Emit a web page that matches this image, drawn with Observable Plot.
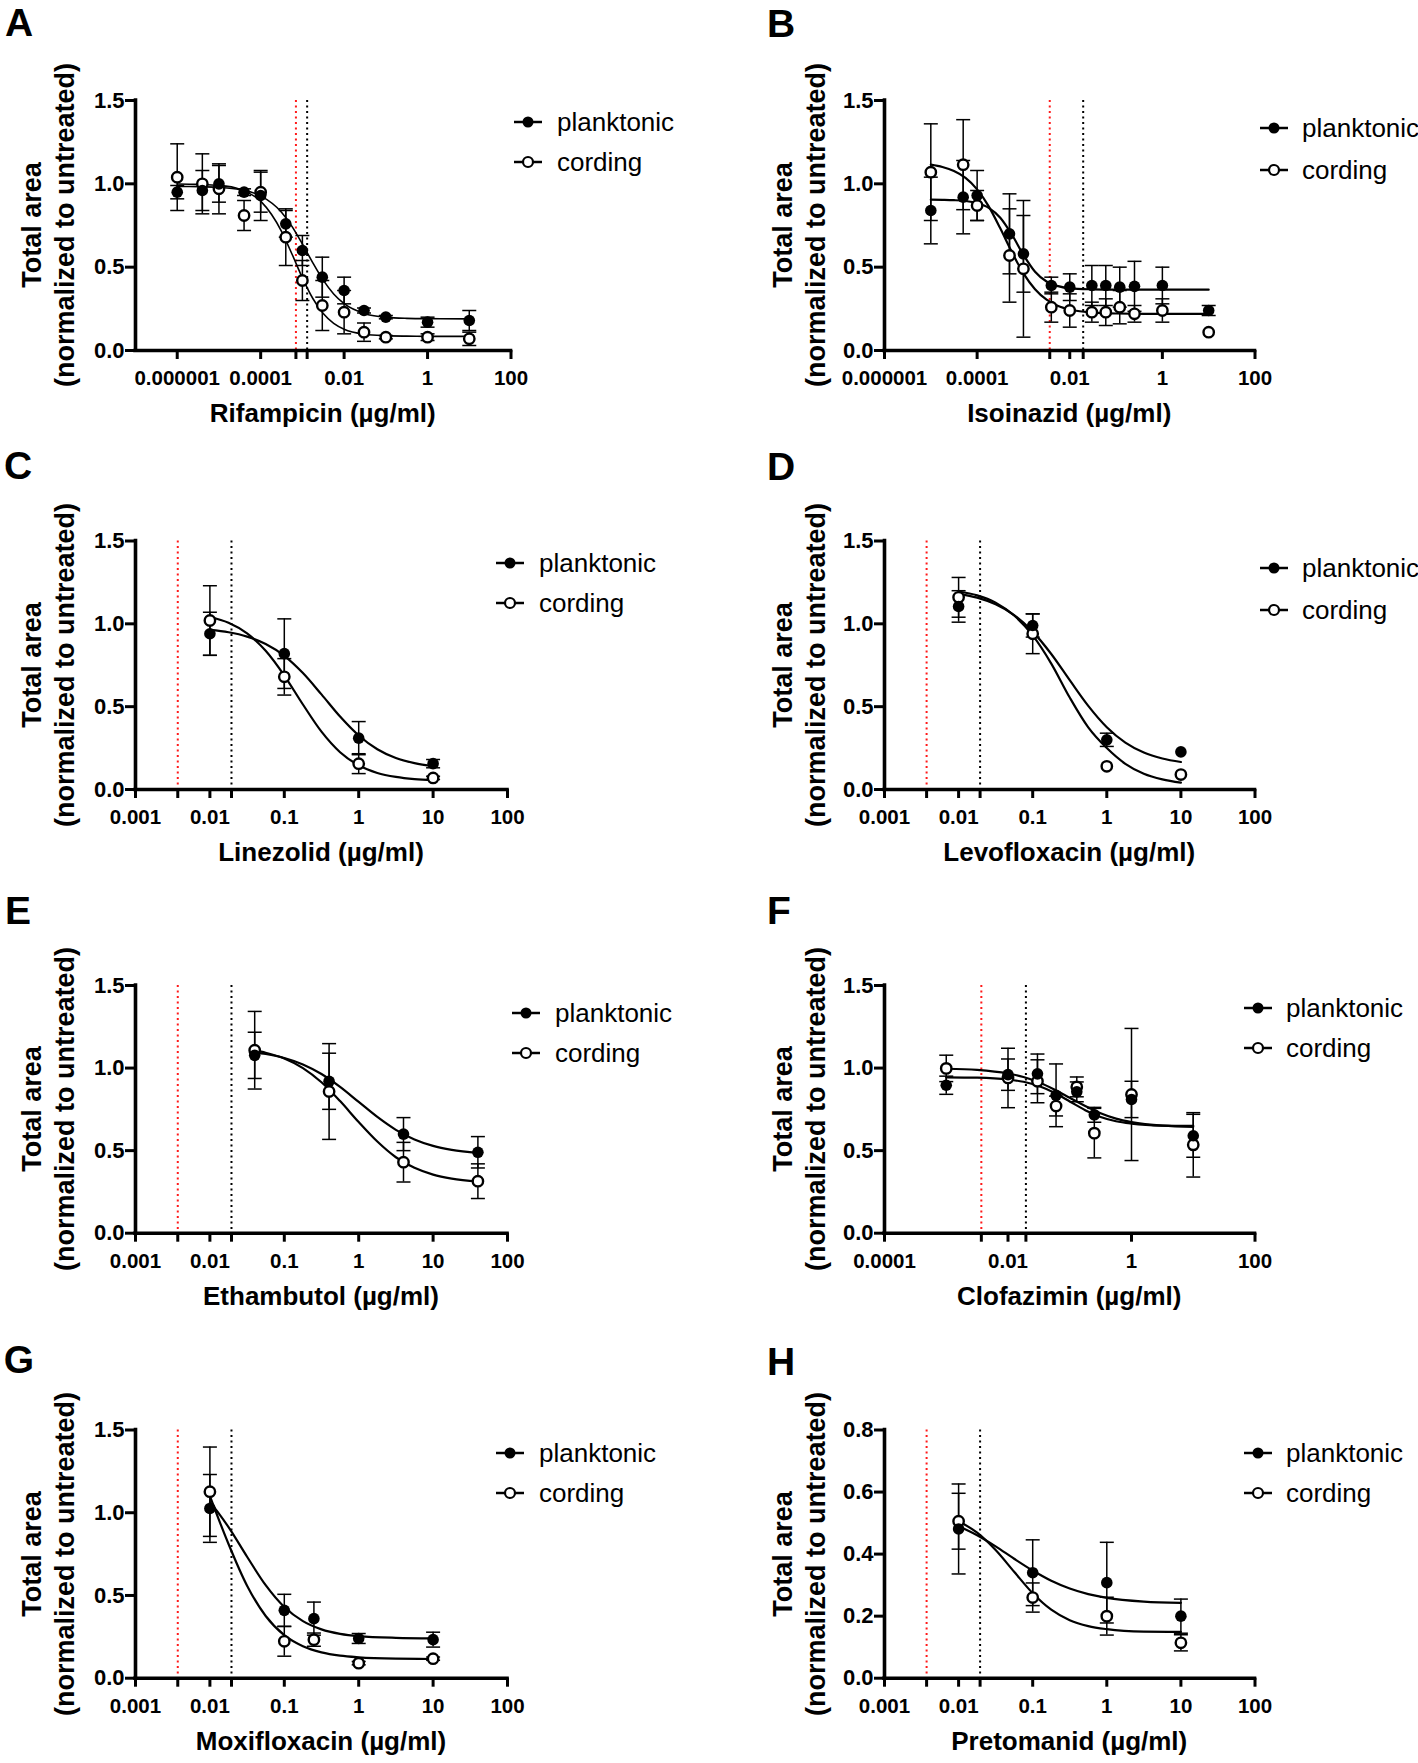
<!DOCTYPE html>
<html><head><meta charset="utf-8">
<script src="https://cdn.jsdelivr.net/npm/d3@7"></script>
<script src="https://cdn.jsdelivr.net/npm/@observablehq/plot@0.6"></script>
<style>
body{margin:0;background:#fff;}
#fig{position:relative;width:1418px;height:1763px;overflow:hidden;font-family:"Liberation Sans",Arial,sans-serif;color:#000;}
.panel{position:absolute;width:709px;}
.panel svg{position:absolute;left:0;top:0;overflow:visible;}
.abs{position:absolute;white-space:nowrap;line-height:1;}
</style></head><body><div id="fig"></div><script>
// ---------------- DATA ----------------
const seriesNames = ["planktonic", "cording"];
const yTicks15 = [0, 0.5, 1.0, 1.5];
const yTicks08 = [0, 0.2, 0.4, 0.6, 0.8];
const xTicksWide = [1e-6, 1e-4, 0.01, 1, 100];
const xLabelsWide = ["0.000001", "0.0001", "0.01", "1", "100"];
const xTicksDec = [0.001, 0.01, 0.1, 1, 10, 100];
const xLabelsDec = ["0.001", "0.01", "0.1", "1", "10", "100"];
const xTicksF = [1e-4, 0.01, 1, 100];
const xLabelsF = ["0.0001", "0.01", "1", "100"];

// A Rifampicin
const concA = [1e-6, 4e-6, 1e-5, 4e-5, 1e-4, 4e-4, 1e-3, 3e-3, 0.01, 0.03, 0.1, 1, 10];
const plankA = [0.95, 0.96, 1.00, 0.95, 0.93, 0.76, 0.60, 0.44, 0.36, 0.24, 0.20, 0.17, 0.18];
const plankErrA = [0.04, 0.12, 0.11, 0.02, 0.15, 0.08, 0.09, 0.12, 0.08, 0.015, 0.01, 0.03, 0.06];
const cordA = [1.04, 1.00, 0.97, 0.81, 0.95, 0.68, 0.42, 0.27, 0.23, 0.11, 0.08, 0.08, 0.07];
const cordErrA = [0.20, 0.18, 0.15, 0.09, 0.12, 0.17, 0.12, 0.15, 0.13, 0.055, 0.01, 0.02, 0.04];
const fitXA = [1e-6, 3.16e-6, 1e-5, 3.16e-5, 1e-4, 3.16e-4, 5.62e-4, 1e-3, 1.78e-3, 3.16e-3, 5.62e-3, 0.01, 0.0316, 0.1, 0.316, 1, 10];
const fitPlankA = [0.984, 0.983, 0.979, 0.966, 0.928, 0.830, 0.745, 0.639, 0.526, 0.422, 0.339, 0.281, 0.221, 0.200, 0.193, 0.191, 0.190];
const fitCordA = [0.999, 0.997, 0.991, 0.968, 0.896, 0.715, 0.579, 0.436, 0.312, 0.222, 0.163, 0.128, 0.098, 0.089, 0.086, 0.085, 0.085];
const micA = [0.0007, 0.0013];

// B Isoinazid
const concB = [1e-5, 5e-5, 1e-4, 5e-4, 1e-3, 0.004, 0.01, 0.03, 0.06, 0.12, 0.25, 1, 10];
const plankB = [0.84, 0.92, 0.93, 0.70, 0.58, 0.39, 0.38, 0.39, 0.39, 0.38, 0.385, 0.39, 0.24];
const plankErrB = [0.20, 0.22, 0.15, 0.24, 0.23, 0.05, 0.08, 0.12, 0.12, 0.12, 0.15, 0.11, 0.03];
const cordB = [1.07, 1.115, 0.87, 0.57, 0.49, 0.26, 0.24, 0.23, 0.23, 0.26, 0.22, 0.24, 0.11];
const cordErrB = [0.29, 0.27, 0.09, 0.28, 0.41, 0.09, 0.10, 0.06, 0.08, 0.10, 0.05, 0.07, 0];
const fitXB = [1e-5, 1.78e-5, 3.16e-5, 5.62e-5, 1e-4, 1.78e-4, 3.16e-4, 5.62e-4, 1e-3, 1.78e-3, 3.16e-3, 5.62e-3, 0.01, 0.0316, 0.1, 1, 10];
const fitPlankB = [0.905, 0.904, 0.902, 0.897, 0.884, 0.856, 0.797, 0.696, 0.574, 0.473, 0.414, 0.386, 0.373, 0.367, 0.365, 0.365, 0.365];
const fitCordB = [1.115, 1.101, 1.077, 1.036, 0.967, 0.865, 0.733, 0.591, 0.463, 0.368, 0.305, 0.267, 0.246, 0.227, 0.222, 0.220, 0.220];
const micB = [0.0037, 0.0195];

// C Linezolid
const concC = [0.01, 0.1, 1, 10];
const plankC = [0.94, 0.82, 0.31, 0.156];
const plankErrC = [0.13, 0.21, 0.10, 0.025];
const cordC = [1.02, 0.68, 0.156, 0.07];
const cordErrC = [0.21, 0.11, 0.06, 0.01];
const fitXC = [0.01, 0.0178, 0.0316, 0.0562, 0.1, 0.178, 0.316, 0.562, 1, 1.78, 3.16, 5.62, 10];
const fitPlankC = [0.963, 0.949, 0.923, 0.878, 0.807, 0.703, 0.574, 0.440, 0.326, 0.243, 0.190, 0.159, 0.141];
const fitCordC = [1.041, 1.006, 0.942, 0.837, 0.688, 0.513, 0.349, 0.225, 0.146, 0.100, 0.076, 0.063, 0.057];
const micC = [0.0037, 0.0195];

// D Levofloxacin
const concD = [0.01, 0.1, 1, 10];
const plankD = [1.105, 0.99, 0.30, 0.227];
const plankErrD = [0.095, 0.07, 0.04, 0];
const cordD = [1.16, 0.94, 0.14, 0.09];
const cordErrD = [0.12, 0.12, 0, 0];
const fitXD = [0.01, 0.0178, 0.0316, 0.0562, 0.1, 0.178, 0.316, 0.562, 1, 1.78, 3.16, 5.62, 10];
const fitPlankD = [1.181, 1.158, 1.118, 1.053, 0.953, 0.818, 0.660, 0.505, 0.376, 0.283, 0.223, 0.187, 0.166];
const fitCordD = [1.195, 1.172, 1.128, 1.050, 0.930, 0.760, 0.555, 0.375, 0.250, 0.155, 0.095, 0.061, 0.041];
const micD = [0.0037, 0.0195];

// E Ethambutol
const concE = [0.04, 0.4, 4, 40];
const plankE = [1.077, 0.92, 0.60, 0.49];
const plankErrE = [0.14, 0.17, 0.10, 0.095];
const cordE = [1.108, 0.858, 0.43, 0.315];
const cordErrE = [0.235, 0.29, 0.12, 0.105];
const fitXE = [0.04, 0.0562, 0.1, 0.178, 0.316, 0.562, 1, 1.78, 3.16, 5.62, 10, 17.8, 40];
const fitPlankE = [1.095, 1.085, 1.061, 1.022, 0.964, 0.886, 0.795, 0.704, 0.626, 0.568, 0.529, 0.505, 0.486];
const fitCordE = [1.107, 1.093, 1.058, 1.000, 0.914, 0.800, 0.673, 0.555, 0.460, 0.396, 0.355, 0.331, 0.313];
const micE = [0.0037, 0.0195];

// F Clofazimin
const concF = [0.001, 0.01, 0.03, 0.06, 0.13, 0.25, 1, 10];
const plankF = [0.896, 0.96, 0.965, 0.835, 0.856, 0.717, 0.81, 0.59];
const plankErrF = [0.055, 0.095, 0.12, 0.19, 0.06, 0.045, 0.11, 0.13];
const cordF = [0.998, 0.94, 0.92, 0.77, 0.886, 0.606, 0.84, 0.535];
const cordErrF = [0.08, 0.18, 0.13, 0.06, 0.06, 0.15, 0.40, 0.195];
const fitXF = [0.001, 0.00316, 0.01, 0.0178, 0.0316, 0.0562, 0.1, 0.178, 0.316, 0.562, 1, 3.16, 10];
const fitPlankF = [0.944, 0.942, 0.931, 0.917, 0.891, 0.850, 0.798, 0.745, 0.704, 0.678, 0.664, 0.652, 0.650];
const fitCordF = [0.996, 0.989, 0.967, 0.946, 0.914, 0.870, 0.820, 0.770, 0.727, 0.694, 0.673, 0.651, 0.644];
const micF = [0.0037, 0.0195];

// G Moxifloxacin
const concG = [0.01, 0.1, 0.25, 1, 10];
const plankG = [1.026, 0.41, 0.36, 0.24, 0.233];
const plankErrG = [0.205, 0.097, 0.10, 0.03, 0.045];
const cordG = [1.127, 0.223, 0.233, 0.091, 0.118];
const cordErrG = [0.27, 0.09, 0.04, 0.01, 0.01];
const fitXG = [0.01, 0.0133, 0.0178, 0.0316, 0.0562, 0.1, 0.178, 0.316, 0.562, 1, 3.16, 10];
const fitPlankG = [1.063, 0.993, 0.913, 0.734, 0.562, 0.430, 0.345, 0.295, 0.268, 0.254, 0.244, 0.241];
const fitCordG = [1.100, 0.954, 0.811, 0.559, 0.376, 0.260, 0.193, 0.156, 0.136, 0.126, 0.118, 0.116];
const micG = [0.0037, 0.0195];

// H Pretomanid
const concH = [0.01, 0.1, 1, 10];
const plankH = [0.481, 0.34, 0.308, 0.20];
const plankErrH = [0.145, 0.106, 0.13, 0.055];
const cordH = [0.506, 0.26, 0.20, 0.114];
const cordErrH = [0.09, 0.047, 0.061, 0.026];
const fitXH = [0.01, 0.0178, 0.0316, 0.0562, 0.1, 0.178, 0.316, 0.562, 1, 3.16, 10];
const fitPlankH = [0.490, 0.461, 0.425, 0.385, 0.347, 0.314, 0.289, 0.271, 0.259, 0.247, 0.243];
const fitCordH = [0.506, 0.469, 0.413, 0.343, 0.274, 0.221, 0.187, 0.168, 0.158, 0.150, 0.149];
const micH = [0.0037, 0.0195];

const drugLabels = ["Rifampicin (µg/ml)", "Isoinazid (µg/ml)", "Linezolid (µg/ml)", "Levofloxacin (µg/ml)",
  "Ethambutol (µg/ml)", "Clofazimin (µg/ml)", "Moxifloxacin (µg/ml)", "Pretomanid (µg/ml)"];
const panelLetters = ["A", "B", "C", "D", "E", "F", "G", "H"];
const yTitleLines = ["Total area", "(normalized to untreated)"];

// ---------------- LAYOUT / STYLE ----------------
const rowTop = [0, 440, 880, 1320];
const rowH = [440, 440, 440, 443];
const frameTop = [100, 100.5, 105, 109.5];
const frameBottom = [350, 349, 352.7, 357.7];

const panels = [
  {conc: concA, pl: plankA, plE: plankErrA, co: cordA, coE: cordErrA, fx: fitXA, fpl: fitPlankA, fco: fitCordA, mic: micA,
   xDomain: [1e-7, 100], xt: xTicksWide, xl: xLabelsWide, yt: yTicks15, yDomain: [0, 1.5], col: 0, row: 0, mr: 198.5, lw: 1.6,
   letter: [19, 22], leg: [527.5, 557, 122, 162]},
  {conc: concB, pl: plankB, plE: plankErrB, co: cordB, coE: cordErrB, fx: fitXB, fpl: fitPlankB, fco: fitCordB, mic: micB,
   xDomain: [1e-6, 100], xt: xTicksWide, xl: xLabelsWide, yt: yTicks15, yDomain: [0, 1.5], col: 1, row: 0, lw: 2.2,
   letter: [72, 23], leg: [564.5, 593, 128, 170]},
  {conc: concC, pl: plankC, plE: plankErrC, co: cordC, coE: cordErrC, fx: fitXC, fpl: fitPlankC, fco: fitCordC, mic: micC,
   xDomain: [0.001, 100], xt: xTicksDec, xl: xLabelsDec, yt: yTicks15, yDomain: [0, 1.5], col: 0, row: 1, lw: 2.2,
   letter: [18, 25], leg: [509.5, 539, 123, 163]},
  {conc: concD, pl: plankD, plE: plankErrD, co: cordD, coE: cordErrD, fx: fitXD, fpl: fitPlankD, fco: fitCordD, mic: micD,
   xDomain: [0.001, 100], xt: xTicksDec, xl: xLabelsDec, yt: yTicks15, yDomain: [0, 1.5], col: 1, row: 1, lw: 2.2,
   letter: [72, 26], leg: [564.5, 593, 128, 170]},
  {conc: concE, pl: plankE, plE: plankErrE, co: cordE, coE: cordErrE, fx: fitXE, fpl: fitPlankE, fco: fitCordE, mic: micE,
   xDomain: [0.001, 100], xt: xTicksDec, xl: xLabelsDec, yt: yTicks15, yDomain: [0, 1.5], col: 0, row: 2, lw: 2.2,
   letter: [18, 30], leg: [526, 555, 133, 173]},
  {conc: concF, pl: plankF, plE: plankErrF, co: cordF, coE: cordErrF, fx: fitXF, fpl: fitPlankF, fco: fitCordF, mic: micF,
   xDomain: [1e-4, 100], xt: xTicksF, xl: xLabelsF, yt: yTicks15, yDomain: [0, 1.5], col: 1, row: 2, lw: 2.2,
   letter: [70, 30], leg: [548.5, 577, 128, 168]},
  {conc: concG, pl: plankG, plE: plankErrG, co: cordG, coE: cordErrG, fx: fitXG, fpl: fitPlankG, fco: fitCordG, mic: micG,
   xDomain: [0.001, 100], xt: xTicksDec, xl: xLabelsDec, yt: yTicks15, yDomain: [0, 1.5], col: 0, row: 3, lw: 2.2,
   letter: [19, 39], leg: [509.5, 539, 133, 173]},
  {conc: concH, pl: plankH, plE: plankErrH, co: cordH, coE: cordErrH, fx: fitXH, fpl: fitPlankH, fco: fitCordH, mic: micH,
   xDomain: [0.001, 100], xt: xTicksDec, xl: xLabelsDec, yt: yTicks08, yDomain: [0, 0.8], col: 1, row: 3, lw: 2.2,
   letter: [72, 41], leg: [548.5, 577, 133, 173]}
];

const capSymbol = {draw(ctx) { ctx.moveTo(-7, 0); ctx.lineTo(7, 0); }};

function el(parent, css, text) {
  const d = document.createElement("div");
  d.className = "abs";
  Object.assign(d.style, css);
  if (text != null) d.textContent = text;
  parent.appendChild(d);
  return d;
}

function legendSymbol(parent, cx, cy, filled) {
  const ns = "http://www.w3.org/2000/svg";
  const s = document.createElementNS(ns, "svg");
  s.setAttribute("width", 34); s.setAttribute("height", 16);
  s.style.position = "absolute"; s.style.left = (cx - 17) + "px"; s.style.top = (cy - 8) + "px";
  const l = document.createElementNS(ns, "line");
  l.setAttribute("x1", 3); l.setAttribute("x2", 31); l.setAttribute("y1", 8); l.setAttribute("y2", 8);
  l.setAttribute("stroke", "#000"); l.setAttribute("stroke-width", 2.5);
  const c = document.createElementNS(ns, "circle");
  c.setAttribute("cx", 17); c.setAttribute("cy", 8); c.setAttribute("r", filled ? 5.5 : 5);
  c.setAttribute("fill", filled ? "#000" : "#fff"); c.setAttribute("stroke", "#000"); c.setAttribute("stroke-width", filled ? 0 : 2.2);
  s.appendChild(l); s.appendChild(c);
  parent.appendChild(s);
}

const fig = document.getElementById("fig");

panels.forEach((p, idx) => {
  const h = rowH[p.row];
  const mt = frameTop[p.row];
  const mb = h - frameBottom[p.row];
  const ml = p.col ? 175 : 135;
  const mr = p.mr ?? (p.col ? 163.5 : 202);
  const div = document.createElement("div");
  div.className = "panel";
  div.style.left = (p.col * 709) + "px";
  div.style.top = rowTop[p.row] + "px";
  div.style.height = h + "px";
  fig.appendChild(div);

  const pts = p.conc.map((c, i) => ({c, pl: p.pl[i], plE: p.plE[i], co: p.co[i], coE: p.coE[i]}));
  const errs = pts.flatMap(d => [
    {c: d.c, lo: d.pl - d.plE, hi: d.pl + d.plE, e: d.plE},
    {c: d.c, lo: d.co - d.coE, hi: d.co + d.coE, e: d.coE}
  ]).filter(d => d.e > 0);
  const fit = p.fx.map((c, i) => ({c, pl: p.fpl[i], co: p.fco[i]}));
  const labelOf = new Map(p.xt.map((t, i) => [t, p.xl[i]]));
  const tickFont = {fontWeight: "bold", fontFamily: "'Liberation Sans',Arial,sans-serif"};

  const chart = Plot.plot({
    width: 709, height: h,
    marginLeft: ml, marginRight: mr, marginTop: mt, marginBottom: mb,
    x: {type: "log", domain: p.xDomain},
    y: {domain: p.yDomain},
    style: {background: "transparent", overflow: "visible", color: "#000"},
    marks: [
      Plot.ruleX([p.mic[0]], {stroke: "#ff1a1a", strokeWidth: 2, strokeDasharray: "2,3.5"}),
      Plot.ruleX([p.mic[1]], {stroke: "#000", strokeWidth: 2, strokeDasharray: "2,3.5"}),
      Plot.ruleX(errs, {x: "c", y1: "lo", y2: "hi", stroke: "#000", strokeWidth: 1.5}),
      Plot.dot(errs, {x: "c", y: "hi", symbol: capSymbol, stroke: "#000", strokeWidth: 1.5, fill: "none"}),
      Plot.dot(errs, {x: "c", y: "lo", symbol: capSymbol, stroke: "#000", strokeWidth: 1.5, fill: "none"}),
      Plot.line(fit, {x: "c", y: "pl", curve: "monotone-x", stroke: "#000", strokeWidth: p.lw}),
      Plot.line(fit, {x: "c", y: "co", curve: "monotone-x", stroke: "#000", strokeWidth: p.lw}),
      Plot.ruleY([p.yDomain[0]], {stroke: "#000", strokeWidth: 3.6, strokeLinecap: "square"}),
      Plot.ruleX([p.xDomain[0]], {stroke: "#000", strokeWidth: 3.6, strokeLinecap: "square"}),
      Plot.axisX({ticks: p.xt, tickFormat: d => labelOf.get(d), tickSize: 9, tickPadding: 11, strokeWidth: 3, label: null, fontSize: 20.5, ...tickFont}),
      Plot.axisX({ticks: p.mic, tickFormat: () => "", tickSize: 9, strokeWidth: 3, label: null}),
      Plot.axisY({ticks: p.yt, tickFormat: d3.format(".1f"), tickSize: 10, tickPadding: 1, strokeWidth: 3, label: null, fontSize: 22, ...tickFont}),
      Plot.dot(pts, {x: "c", y: "co", r: 5.2, fill: "#fff", stroke: "#000", strokeWidth: 2.4}),
      Plot.dot(pts, {x: "c", y: "pl", r: 5.8, fill: "#000", stroke: "none"})
    ]
  });
  div.appendChild(chart);

  // panel letter
  el(div, {left: p.letter[0] + "px", top: p.letter[1] + "px", transform: "translate(-50%,-50%)",
    fontSize: "39px", fontWeight: "bold"}, panelLetters[idx]);
  // y title (two lines, rotated)
  const yt = el(div, {left: (p.col ? 91 : 49) + "px", top: ((mt + frameBottom[p.row]) / 2) + "px",
    transform: "translate(-50%,-50%) rotate(-90deg)", fontSize: "27px", fontWeight: "bold",
    textAlign: "center", lineHeight: "33px"});
  yt.innerHTML = yTitleLines.join("<br>");
  // x title
  el(div, {left: ((ml + 709 - mr) / 2) + "px", top: (frameBottom[p.row] + 63) + "px", transform: "translate(-50%,-50%)",
    fontSize: "26px", fontWeight: "bold"}, drugLabels[idx]);
  // legend
  const [sx, tx, y1, y2] = p.leg;
  legendSymbol(div, sx, y1, true);
  legendSymbol(div, sx, y2, false);
  el(div, {left: tx + "px", top: y1 + "px", transform: "translateY(-50%)", fontSize: "26px"}, seriesNames[0]);
  el(div, {left: tx + "px", top: y2 + "px", transform: "translateY(-50%)", fontSize: "26px"}, seriesNames[1]);
});
</script></body></html>
